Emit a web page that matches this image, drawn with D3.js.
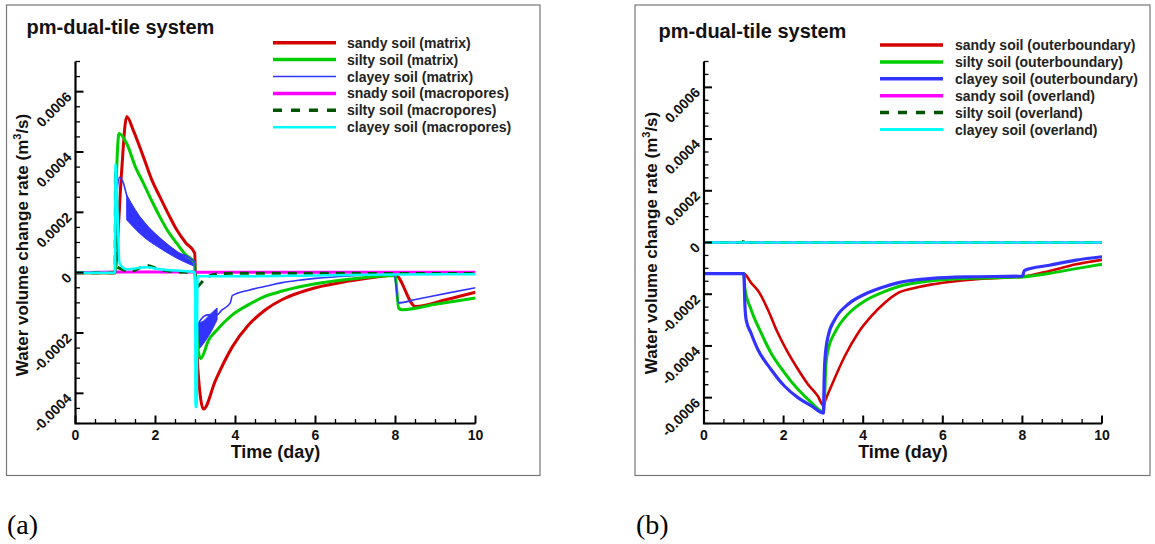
<!DOCTYPE html>
<html><head><meta charset="utf-8">
<script src="https://cdn.jsdelivr.net/npm/d3@7"></script>
<style>
html,body{margin:0;padding:0;background:#fff;}
svg{display:block;font-family:"Liberation Sans",Arial,sans-serif;}
</style></head>
<body>
<svg id="chart" width="1155" height="544"></svg>
<script>
// ---------- data (t in days, value in m^3/s) ----------
const xTicks = [0, 2, 4, 6, 8, 10];
const yTicksA = [-0.0004, -0.0002, 0, 0.0002, 0.0004, 0.0006];
const yTicksB = [-0.0006, -0.0004, -0.0002, 0, 0.0002, 0.0004, 0.0006];
const tickLabelsA = ["-0.0004", "-0.0002", "0", "0.0002", "0.0004", "0.0006"];
const tickLabelsB = ["-0.0006", "-0.0004", "-0.0002", "0", "0.0002", "0.0004", "0.0006"];

const legendA = ["sandy soil (matrix)", "silty soil (matrix)", "clayey soil (matrix)",
                 "snady soil (macropores)", "silty soil (macropores)", "clayey soil (macropores)"];
const legendB = ["sandy soil (outerboundary)", "silty soil (outerboundary)", "clayey soil (outerboundary)",
                 "sandy soil (overland)", "silty soil (overland)", "clayey soil (overland)"];

// panel (a)
const sandyMatrix = [[0,0],[0.99,0],[1.03,0.00006],[1.15,0.00033],[1.28,0.000518],[1.45,0.00047],[1.7,0.000383],[1.9,0.00031],[2.11,0.000251],[2.3,0.0002],[2.53,0.000142],[2.75,0.0001],[2.98,0.000065],
  [3.0,-0.00003],[3.06,-0.00032],[3.2,-0.000452],[3.5,-0.000357],[3.92,-0.000246],[4.33,-0.000173],[4.75,-0.000123],[5.17,-0.000089],[5.58,-0.000067],[6.0,-0.00005],[6.83,-0.000028],[7.67,-0.000012],[7.99,-0.000007],
  [8.5,-0.000112],[9.25,-0.00009],[10,-0.000065]];
const siltyMatrix = [[0,0],[0.99,0],[1.02,0.0003],[1.09,0.000461],[1.28,0.000428],[1.5,0.00035],[1.7,0.000296],[1.9,0.00024],[2.11,0.000185],[2.3,0.00014],[2.53,0.0000977],[2.75,0.00006],[2.98,0.000032],
  [3.0,-0.00005],[3.05,-0.00024],[3.13,-0.000285],[3.33,-0.000223],[3.5,-0.000195],[3.92,-0.00014],[4.33,-0.000106],[4.75,-0.000078],[5.17,-0.000061],[6.0,-0.000037],[6.83,-0.000022],[7.99,-0.000009],
  [8.08,-0.000118],[8.17,-0.000123],[9.0,-0.000105],[10,-0.000084]];
const clayeyMatrix = [[0,0],[0.99,0],[1.02,0.00022],[1.1,0.000316],[1.2,0.000296],[1.28,0.000257],[1.7,0.000169],[2.11,0.000114],[2.53,0.00007],[2.99,0.000034],
  [3.02,-0.0002],[3.08,-0.000167],[3.3,-0.00014],[3.54,-0.00014],[3.65,-0.000125],[3.87,-0.0001],[3.92,-0.000076],[4.33,-0.000058],[4.75,-0.000045],[5.17,-0.000033],[5.58,-0.000025],[6.0,-0.000019],[6.83,-0.000011],[7.96,-0.000006],
  [8.08,-0.0001],[8.5,-0.000089],[9.33,-0.000067],[10,-0.00005]];
// oscillation envelope of the clayey matrix curve: [t, lower, upper]
const clayeyBand1 = [[1.28,0.000175,0.000257],[1.7,0.000119,0.000169],[2.11,0.0000812,0.000114],[2.53,0.0000482,0.00007],[2.99,0.0000205,0.0000337]];
const clayeyBand2 = [[3.06,-0.000257,-0.000167],[3.2,-0.000235,-0.00016],[3.35,-0.000205,-0.00014],[3.54,-0.000156,-0.000117]];
const sandyMacro = [[0,0],[1.0,0.000002],[3.0,0.000002],[3.02,0.000001],[10,0.000001]];
const siltyMacro = [[0,0],[0.99,0],[1.0,0.00034],[1.02,0.00002],[1.4,0.000005],[1.78,0.000024],[2.1,0.00001],[2.5,0.000003],[2.99,0],
  [3.02,-0.00005],[3.1,-0.00004],[3.2,-0.000025],[3.5,-0.000005],[4,-0.000002],[10,-0.000003]];
const clayeyMacro = [[0,0],[0.99,0],[1.0,0.00036],[1.04,0.00025],[1.1,0.000032],[1.28,0.000011],[1.78,0.000018],[2.11,0.000011],[2.95,0.000002],
  [2.99,0],[3.0,-0.000445],[3.03,-0.000445],[3.05,-0.000012],[4.0,-0.000012],[6.0,-0.000009],[8.0,-0.000006],[10,-0.000005]];

// panel (b)
const sandyOuter = [[0,-0.00012],[1,-0.00012],[1.18,-0.000155],[1.39,-0.000194],[1.6,-0.000258],[1.85,-0.000348],[2.11,-0.000426],[2.36,-0.00049],[2.61,-0.000548],[2.86,-0.000594],[3.0,-0.00063],
  [3.05,-0.00061],[3.2,-0.000555],[3.54,-0.000439],[3.88,-0.000348],[4.21,-0.000284],[4.55,-0.000232],[4.89,-0.000194],[5.31,-0.000175],[5.73,-0.000162],[6.15,-0.000153],[7.0,-0.00014],[8.0,-0.000132],
  [8.68,-0.00011],[9.35,-0.000084],[10,-0.000067]];
const siltyOuter = [[0,-0.00012],[1,-0.00012],[1.03,-0.00018],[1.18,-0.000258],[1.43,-0.000348],[1.68,-0.000426],[2.02,-0.000503],[2.36,-0.000568],[2.7,-0.000619],[3.0,-0.000655],
  [3.03,-0.0006],[3.06,-0.000477],[3.12,-0.000413],[3.29,-0.000348],[3.62,-0.000277],[4.04,-0.000226],[4.47,-0.000194],[4.89,-0.00017],[5.73,-0.000148],[6.57,-0.000139],[8,-0.000133],
  [8.68,-0.000119],[9.35,-0.000101],[10,-0.000084]];
const clayeyOuter = [[0,-0.00012],[1,-0.00012],[1.03,-0.00025],[1.06,-0.0003],[1.18,-0.00035],[1.35,-0.000413],[1.68,-0.00049],[2.02,-0.000555],[2.36,-0.0006],[2.7,-0.000632],[3.0,-0.00066],
  [3.02,-0.00052],[3.04,-0.00045],[3.12,-0.000361],[3.29,-0.000297],[3.62,-0.000239],[4.04,-0.0002],[4.47,-0.000174],[4.89,-0.000155],[5.73,-0.000139],[6.57,-0.000133],[8,-0.00013],
  [8.05,-0.000108],[8.68,-0.000088],[9.35,-0.000068],[10,-0.000055]];
const sandyOver = [[0,0],[10,0]];
const siltyOver = [[0,0],[0.98,0],[1.0,0.00001],[1.03,0],[10,0]];
const clayeyOver = [[0,0],[10,0]];

// ---------- styles ----------
const C = {red:"#d40000", green:"#00cc00", blue:"#3333ff", magenta:"#ff00ff", dgreen:"#005500", cyan:"#00ffff"};

const svg = d3.select("#chart");

function drawPanel(p) {
  const g = svg.append("g");
  g.append("rect").attr("x", p.frame[0]).attr("y", p.frame[1])
    .attr("width", p.frame[2] - p.frame[0]).attr("height", p.frame[3] - p.frame[1])
    .attr("fill", "none").attr("stroke", "#777").attr("stroke-width", 1.2);

  const x = d3.scaleLinear().domain([0, 10]).range([p.x0, p.x1]);
  const y = d3.scaleLinear().domain(p.yDomain).range([p.yBottom, p.yTop]);

  const clipId = "clip" + p.id;
  g.append("clipPath").attr("id", clipId).append("rect")
    .attr("x", p.x0).attr("y", p.yTop).attr("width", p.x1 - p.x0).attr("height", p.yBottom - p.yTop);
  const plot = g.append("g").attr("clip-path", `url(#${clipId})`);

  const line = d3.line().x(d => x(d[0])).y(d => y(d[1])).curve(d3.curveMonotoneX);
  const area = d3.area().x(d => x(d[0])).y0(d => y(d[1])).y1(d => y(d[2])).curve(d3.curveMonotoneX);

  (p.bands || []).forEach(b => {
    plot.append("path").attr("d", area(b.data)).attr("fill", b.color).attr("stroke", b.color).attr("stroke-width", 1);
  });
  p.series.forEach(s => {
    plot.append("path").attr("d", line(s.data)).attr("fill", "none")
      .attr("stroke", s.color).attr("stroke-width", s.w)
      .attr("stroke-dasharray", s.dash || null)
      .attr("stroke-linejoin", "round");
  });

  const ax = g.append("g");
  const xMinor = d3.range(0, 10.001, 0.5);
  const yMinor = d3.range(p.yDomain[0], p.yDomain[1] + 1e-9, 0.00005);
  xMinor.forEach(t => {
    const major = xTicks.some(v => Math.abs(v - t) < 1e-9);
    ax.append("line").attr("x1", x(t)).attr("x2", x(t)).attr("y1", p.yBottom).attr("y2", p.yBottom - (major ? 8 : 4.5))
      .attr("stroke", "#000").attr("stroke-width", major ? 2 : 1.3);
  });
  yMinor.forEach(v => {
    const major = p.yTicks.some(t => Math.abs(t - v) < 1e-9);
    ax.append("line").attr("y1", y(v)).attr("y2", y(v)).attr("x1", p.x0).attr("x2", p.x0 + (major ? 8 : 4.5))
      .attr("stroke", "#000").attr("stroke-width", major ? 2 : 1.3);
  });
  ax.append("path").attr("d", `M${p.x0},${p.yTop}V${p.yBottom}H${p.x1}`)
    .attr("fill", "none").attr("stroke", "#000").attr("stroke-width", 2.2);

  xTicks.forEach(t => {
    ax.append("text").attr("x", x(t)).attr("y", p.yBottom + 16).attr("text-anchor", "middle")
      .attr("font-size", 14).attr("font-weight", "bold").attr("fill", "#111").text(t);
  });
  p.yTicks.forEach((v, i) => {
    const tx = p.x0 - 3, ty = y(v) + 6;
    ax.append("text").attr("transform", `translate(${tx},${ty}) rotate(-45)`).attr("text-anchor", "end")
      .attr("font-size", 14).attr("font-weight", "bold").attr("fill", "#111").text(p.yLabels[i]);
  });

  g.append("text").attr("x", (p.x0 + p.x1) / 2).attr("y", p.yBottom + 34).attr("text-anchor", "middle")
    .attr("font-size", 18).attr("font-weight", "bold").attr("fill", "#111").text("Time (day)");
  const yt = g.append("text").attr("transform", `translate(${p.yTitleX},${p.yTitleY}) rotate(-90)`)
    .attr("text-anchor", "middle").attr("font-size", 17).attr("font-weight", "bold").attr("fill", "#111");
  yt.append("tspan").text("Water volume change rate (m");
  yt.append("tspan").attr("font-size", 11).attr("dy", -7).text("3");
  yt.append("tspan").attr("dy", 7).text("/s)");

  g.append("text").attr("x", p.titleX).attr("y", p.titleY).attr("font-size", 20).attr("font-weight", "bold")
    .attr("fill", "#111").text("pm-dual-tile system");

  p.series.forEach((s, i) => {
    const ly = p.legY + i * 16.9;
    g.append("line").attr("x1", p.legX0).attr("x2", p.legX1).attr("y1", ly).attr("y2", ly)
      .attr("stroke", s.color).attr("stroke-width", s.lw).attr("stroke-dasharray", s.ldash || null);
    g.append("text").attr("x", p.legTX).attr("y", ly + 5).attr("font-size", 14).attr("font-weight", "bold")
      .attr("fill", "#222").text(p.legend[i]);
  });

  svg.append("text").attr("x", p.labX).attr("y", 534).attr("font-family", "'Liberation Serif','Times New Roman',serif")
    .attr("font-size", 28).attr("fill", "#000").text(p.lab);
}

drawPanel({
  id: "a", frame: [6.5, 5, 540, 475.5], x0: 75.5, x1: 475.5, yTop: 61.5, yBottom: 423.5,
  yDomain: [-0.0005, 0.0007], yTicks: yTicksA, yLabels: tickLabelsA,
  yTitleX: 28, yTitleY: 245, titleX: 26.5, titleY: 34,
  legX0: 273, legX1: 336, legTX: 347, legY: 42.7, legend: legendA, lab: "(a)", labX: 7,
  bands: [{data: clayeyBand1, color: C.blue}, {data: clayeyBand2, color: C.blue}],
  series: [
    {data: sandyMatrix, color: C.red, w: 3, lw: 3.5},
    {data: siltyMatrix, color: C.green, w: 3, lw: 3.5},
    {data: clayeyMatrix, color: C.blue, w: 1.6, lw: 1.6},
    {data: sandyMacro, color: C.magenta, w: 3, lw: 3.5},
    {data: siltyMacro, color: C.dgreen, w: 3, dash: "9,7", lw: 3.5, ldash: "9,9"},
    {data: clayeyMacro, color: C.cyan, w: 2.5, lw: 2.5}
  ]
});

drawPanel({
  id: "b", frame: [635, 5, 1150, 475.5], x0: 704, x1: 1102, yTop: 61.5, yBottom: 423.5,
  yDomain: [-0.0007, 0.0007], yTicks: yTicksB, yLabels: tickLabelsB,
  yTitleX: 657, yTitleY: 243, titleX: 658.5, titleY: 38,
  legX0: 880, legX1: 943, legTX: 955, legY: 45, legend: legendB, lab: "(b)", labX: 636,
  series: [
    {data: sandyOuter, color: C.red, w: 2.6, lw: 3.5},
    {data: siltyOuter, color: C.green, w: 3, lw: 3.5},
    {data: clayeyOuter, color: C.blue, w: 3.2, lw: 3.5},
    {data: sandyOver, color: C.magenta, w: 3, lw: 3.5},
    {data: siltyOver, color: C.dgreen, w: 3, dash: "9,7", lw: 3.5, ldash: "9,9"},
    {data: clayeyOver, color: C.cyan, w: 2.5, lw: 3}
  ]
});
</script>
</body></html>
